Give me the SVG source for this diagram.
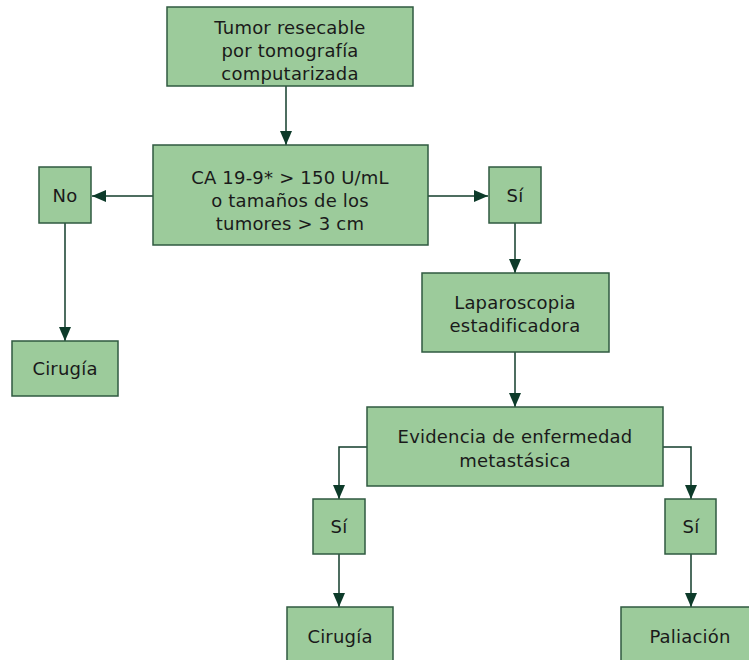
<svg xmlns="http://www.w3.org/2000/svg" width="749" height="660" viewBox="0 0 749 660">
<style>
.box{fill:#9ccb9b;stroke:#2f5a40;stroke-width:1.5}
.t{font-family:"DejaVu Sans","Noto Sans",sans-serif;font-size:18px;letter-spacing:0.2px;fill:#1a1a1a;text-anchor:middle}
.c{fill:none;stroke:#123d2b;stroke-width:1.5}
</style>
<defs>
<marker id="ah" viewBox="0 0 14 12" refX="14" refY="6" markerWidth="14" markerHeight="12" markerUnits="userSpaceOnUse" orient="auto">
<path d="M0,0 L14,6 L0,12 Z" fill="#0d3b2a"/>
</marker>
</defs>
<rect width="749" height="660" fill="#fff"/>
<g id="connectors">
<path class="c" d="M286,86 V145" marker-end="url(#ah)"/>
<path class="c" d="M153,196 H92" marker-end="url(#ah)"/>
<path class="c" d="M428,196 H488" marker-end="url(#ah)"/>
<path class="c" d="M65,223 V341" marker-end="url(#ah)"/>
<path class="c" d="M515,223 V273" marker-end="url(#ah)"/>
<path class="c" d="M515,352 V407" marker-end="url(#ah)"/>
<path class="c" d="M367,447 H339 V499" marker-end="url(#ah)"/>
<path class="c" d="M663,447 H691 V499" marker-end="url(#ah)"/>
<path class="c" d="M339,554 V607" marker-end="url(#ah)"/>
<path class="c" d="M691,554 V607" marker-end="url(#ah)"/>
</g>
<g id="n1"><rect class="box" x="167" y="7" width="246" height="79"/>
<text class="t" x="290" y="34">Tumor resecable</text>
<text class="t" x="290" y="57">por tomografía</text>
<text class="t" x="290" y="80">computarizada</text></g>
<g id="n2"><rect class="box" x="153" y="145" width="275" height="100"/>
<text class="t" x="290" y="184">CA 19-9* &gt; 150 U/mL</text>
<text class="t" x="290" y="207">o tamaños de los</text>
<text class="t" x="290" y="230">tumores &gt; 3 cm</text></g>
<g id="n3"><rect class="box" x="39" y="167" width="52" height="56"/>
<text class="t" x="65" y="202">No</text></g>
<g id="n4"><rect class="box" x="489" y="167" width="52" height="56"/>
<text class="t" x="515" y="202">Sí</text></g>
<g id="n5"><rect class="box" x="12" y="341" width="106" height="55"/>
<text class="t" x="65" y="375">Cirugía</text></g>
<g id="n6"><rect class="box" x="422" y="273" width="187" height="79"/>
<text class="t" x="515" y="309">Laparoscopia</text>
<text class="t" x="515" y="332">estadificadora</text></g>
<g id="n7"><rect class="box" x="367" y="407" width="296" height="79"/>
<text class="t" x="515" y="443">Evidencia de enfermedad</text>
<text class="t" x="515" y="467">metastásica</text></g>
<g id="n8"><rect class="box" x="313" y="499" width="52" height="55"/>
<text class="t" x="339" y="533">Sí</text></g>
<g id="n9"><rect class="box" x="665" y="499" width="51" height="55"/>
<text class="t" x="691" y="533">Sí</text></g>
<g id="n10"><rect class="box" x="287" y="607" width="106" height="60"/>
<text class="t" x="340" y="643">Cirugía</text></g>
<g id="n11"><rect class="box" x="621" y="607" width="140" height="60"/>
<text class="t" x="690" y="643">Paliación</text></g>
</svg>
